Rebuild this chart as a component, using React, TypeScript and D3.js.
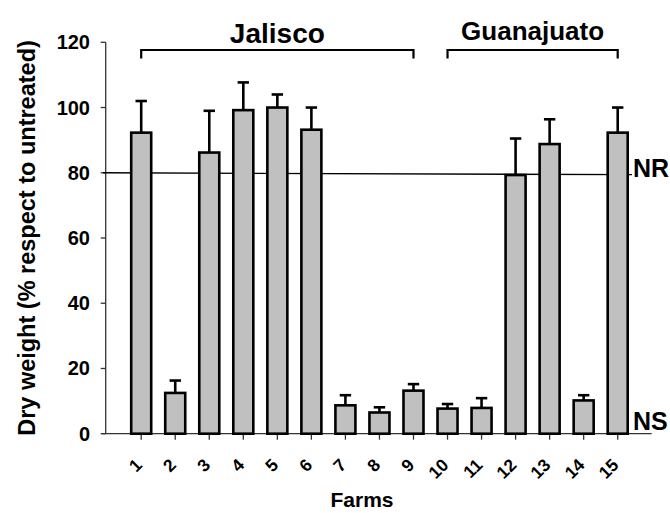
import React from "react";
import * as d3 from "d3";

const farms = ["1","2","3","4","5","6","7","8","9","10","11","12","13","14","15"];
const means = [92.3, 12.5, 86.2, 99.2, 100, 93.2, 8.7, 6.5, 13.2, 7.7, 7.9, 79.3, 88.8, 10.2, 92.3];
const upper = [102, 16.3, 99, 107.7, 104, 100, 11.8, 8.1, 15.2, 9.1, 10.9, 90.5, 96.4, 11.8, 100];
const yTicks = [0, 20, 40, 60, 80, 100, 120];
const groups = [
  { name: "Jalisco", from: "1", to: "9", size: 28, base: 43 },
  { name: "Guanajuato", from: "10", to: "15", size: 26, base: 40 },
];
const nrLevel = [80, 79.4];
const yTitle = "Dry weight (% respect to untreated)";
const xTitle = "Farms";

const W = 670, H = 513;
const FONT = "'Liberation Sans', Arial, sans-serif";

export default function App() {
  const y = d3.scaleLinear().domain([0, 120]).range([433.7, 42.3]);
  const x = d3.scalePoint<string>().domain(farms).range([141.2, 617.7]);
  const barW = 20;
  const axisX = 105.7;
  const baseY = y(0);

  return (
    <svg width={W} height={H} style={{ position: "absolute", left: 0, top: 0, background: "#fff" }}>
      {/* y axis */}
      <line x1={axisX} x2={axisX} y1={y(120)} y2={baseY} stroke="#333" strokeWidth={1.3} />
      {yTicks.map((t) => (
        <g key={t}>
          <line x1={axisX - 5} x2={axisX} y1={y(t)} y2={y(t)} stroke="#333" strokeWidth={1.3} />
          <text x={90} y={y(t) + 7} textAnchor="end" fontFamily={FONT} fontWeight="bold" fontSize={20} fill="#000">
            {t}
          </text>
        </g>
      ))}
      {/* x axis */}
      <line x1={102.5} x2={651.7} y1={baseY} y2={baseY} stroke="#333" strokeWidth={1.3} />
      {farms.map((f) => (
        <g key={f}>
          <line x1={x(f)} x2={x(f)} y1={baseY} y2={baseY + 6} stroke="#333" strokeWidth={1.3} />
          <text
            transform={`translate(${x(f)! + 2},${466}) rotate(-45)`}
            textAnchor="end"
            fontFamily={FONT}
            fontWeight="bold"
            fontSize={17.5}
            fill="#000"
          >
            {f}
          </text>
        </g>
      ))}
      {/* NR line */}
      <line x1={103} x2={632} y1={y(nrLevel[0])} y2={y(nrLevel[1])} stroke="#000" strokeWidth={1.3} />
      {/* bars */}
      {farms.map((f, i) => {
        const cx = x(f)!;
        return (
          <g key={f}>
            <line x1={cx} x2={cx} y1={y(means[i])} y2={y(upper[i])} stroke="#000" strokeWidth={2.6} />
            <line x1={cx - 5.7} x2={cx + 5.7} y1={y(upper[i])} y2={y(upper[i])} stroke="#000" strokeWidth={2.6} />
            <rect x={cx - barW / 2} y={y(means[i])} width={barW} height={baseY - y(means[i])} fill="#c0c0c0" stroke="#000" strokeWidth={2.6} />
          </g>
        );
      })}
      {/* group brackets */}
      {groups.map((g) => {
        const x1 = x(g.from)!, x2 = x(g.to)!;
        return (
          <g key={g.name}>
            <path d={`M${x1},58.5V50H${x2}V58.5`} fill="none" stroke="#000" strokeWidth={2.2} />
            <text x={(x1 + x2) / 2} y={g.base} textAnchor="middle" fontFamily={FONT} fontWeight="bold" fontSize={g.size} fill="#000">
              {g.name}
            </text>
          </g>
        );
      })}
      <text x={633} y={177} fontFamily={FONT} fontWeight="bold" fontSize={25} fill="#000">NR</text>
      <text x={633} y={430} fontFamily={FONT} fontWeight="bold" fontSize={25} fill="#000">NS</text>
      {/* titles */}
      <text transform={`translate(35,${238}) rotate(-90)`} textAnchor="middle" fontFamily={FONT} fontWeight="bold" fontSize={23.5} fill="#000">
        {yTitle}
      </text>
      <text x={362} y={507} textAnchor="middle" fontFamily={FONT} fontWeight="bold" fontSize={21} fill="#000">
        {xTitle}
      </text>
    </svg>
  );
}
